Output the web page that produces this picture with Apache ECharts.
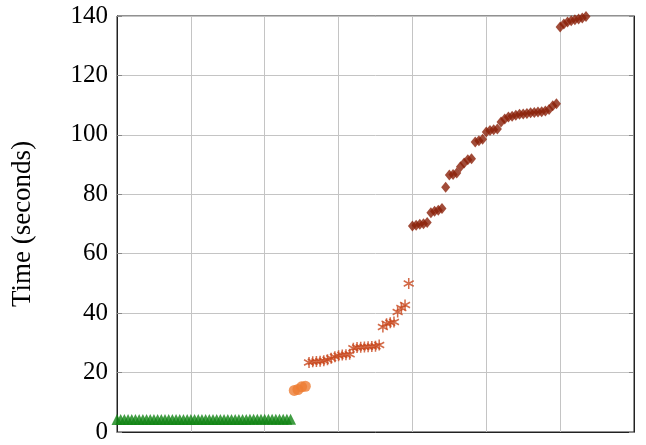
<!DOCTYPE html>
<html>
<head>
<meta charset="utf-8">
<script src="https://cdn.jsdelivr.net/npm/echarts@6/dist/echarts.min.js"></script>
<style>html,body{margin:0;padding:0;background:#fff}#c{width:646px;height:445px}</style>
</head>
<body>
<div id="c"></div>
<script>
// Series values, indexed by run number (x position)
var greenX0 = 0;
var greenY = [4.2,4.2,4.2,4.2,4.2,4.2,4.2,4.2,4.2,4.2,4.2,4.2,4.2,4.2,4.2,4.2,
              4.2,4.2,4.2,4.2,4.2,4.2,4.2,4.2,4.2,4.2,4.2,4.2,4.2,4.2,4.2,4.2,
              4.2,4.2,4.2,4.2,4.3,4.3,4.3,4.3,4.3,4.3,4.3,4.3,4.3,4.3,4.3,4.3];
var orangeX0 = 48;
var orangeY = [14.0, 14.3, 15.2, 15.4];
var starX0 = 52;
var starY = [23.4,23.6,23.7,23.8,24.0,24.3,24.8,25.3,25.7,25.9,26.0,26.2,
             28.2,28.4,28.5,28.6,28.7,28.8,28.9,29.3,
             35.3,36.4,36.8,37.0,40.4,41.7,42.7,50.0];
var diamondX0 = 80;
var diamondY = [69.3,69.6,69.9,70.1,70.5,73.8,74.3,74.6,75.2,82.4,86.5,86.7,87.2,
                89.3,90.5,91.6,92.0,97.6,98.0,98.5,101.0,101.5,101.7,102.0,
                104.3,105.3,106.0,106.3,106.6,106.9,107.0,107.2,107.4,107.5,107.7,
                107.8,108.0,108.5,109.8,110.5,
                136.3,137.3,138.0,138.4,138.7,139.0,139.3,139.8];
var yTicks = [0,20,40,60,80,100,120,140];
var xTicks = [0,20,40,60,80,100,120,140];

function pts(x0, ys){ return ys.map(function(v,i){ return [x0+i, v]; }); }

var serif = '"Liberation Serif","DejaVu Serif",serif';
var chart = echarts.init(document.getElementById('c'), null, {renderer:'canvas'});
var gridLine = {show:true, lineStyle:{color:'#c4c4c4', width:1}};
var ytick = {show:true, inside:true, length:5, lineStyle:{color:'#888'}};
chart.setOption({
  animation:false,
  backgroundColor:'#fff',
  grid:{left:117, right:12, top:16, bottom:13, show:true, borderColor:'#222', borderWidth:1, backgroundColor:'transparent'},
  xAxis:[
    {type:'value', min:xTicks[0], max:xTicks[xTicks.length-1], interval:20, position:'bottom',
     axisLine:{show:true, lineStyle:{color:'#222'}}, axisTick:{show:false}, axisLabel:{show:false}, splitLine:gridLine}
  ],
  yAxis:[
    {type:'value', min:yTicks[0], max:yTicks[yTicks.length-1], interval:20, position:'left',
     axisLine:{show:true, lineStyle:{color:'#222'}}, axisTick:ytick,
     axisLabel:{color:'#000', fontFamily:serif, fontSize:25, margin:9},
     splitLine:gridLine,
     name:'Time (seconds)', nameLocation:'middle', nameGap:81, nameRotate:90,
     nameTextStyle:{color:'#000', fontFamily:serif, fontSize:27}},
    {type:'value', min:yTicks[0], max:yTicks[yTicks.length-1], interval:20, position:'right',
     axisLine:{show:true, lineStyle:{color:'#222'}}, axisTick:ytick, axisLabel:{show:false}, splitLine:{show:false}}
  ],
  series:[
    {type:'scatter', data:pts(greenX0, greenY), symbol:'triangle', symbolSize:[11,11],
     itemStyle:{color:'#118514'}, z:3},
    {type:'scatter', data:pts(orangeX0, orangeY), symbol:'circle', symbolSize:11,
     itemStyle:{color:'#ee7d33'}, z:3},
    {type:'scatter', data:pts(starX0, starY), symbol:'path://M0,-1L0,1M-0.866,-0.5L0.866,0.5M-0.866,0.5L0.866,-0.5',
     symbolSize:[10,11], itemStyle:{color:'rgba(0,0,0,0)', borderColor:'#c8461c', borderWidth:1.6}, z:3},
    {type:'scatter', data:pts(diamondX0, diamondY), symbol:'diamond', symbolSize:[9,11],
     itemStyle:{color:'#8a1f08'}, z:3}
  ]
});
</script>
</body>
</html>
